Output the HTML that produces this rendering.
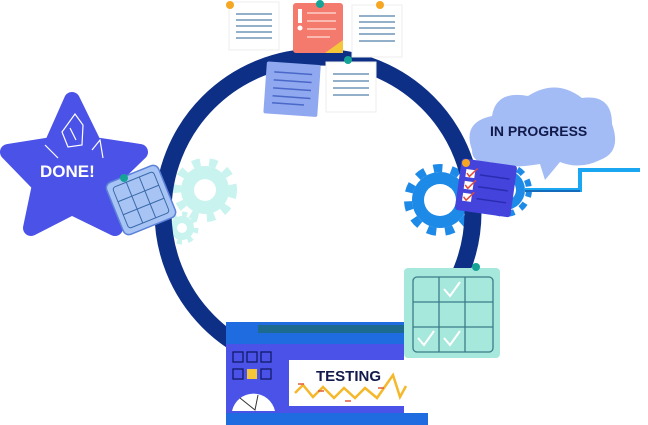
<!DOCTYPE html>
<html><head><meta charset="utf-8"><style>
html,body{margin:0;padding:0;background:#fff;width:648px;height:425px;overflow:hidden}
text{font-family:"Liberation Sans",Arial,sans-serif;font-weight:bold}
</style></head><body>
<svg width="648" height="425" viewBox="0 0 648 425" xmlns="http://www.w3.org/2000/svg">
<!-- gears -->
<g fill="#c8f3ee">
<circle cx="205" cy="190" r="24"/><circle cx="182" cy="228" r="12"/>
</g>
<circle cx="205" cy="190" r="28" fill="none" stroke="#c8f3ee" stroke-width="8" stroke-dasharray="8 9"/>
<circle cx="182" cy="228" r="14" fill="none" stroke="#c8f3ee" stroke-width="5" stroke-dasharray="5 6"/>
<circle cx="205" cy="190" r="11" fill="#fff"/><circle cx="182" cy="228" r="5" fill="#fff"/>
<circle cx="440" cy="200" r="28" fill="#1e8ae8"/>
<circle cx="440" cy="200" r="32" fill="none" stroke="#1e8ae8" stroke-width="8" stroke-dasharray="9 9"/>
<circle cx="440" cy="200" r="16" fill="#fff"/>
<circle cx="505" cy="190" r="20" fill="#1e8ae8"/>
<circle cx="505" cy="190" r="24" fill="none" stroke="#1e8ae8" stroke-width="6" stroke-dasharray="7 7"/>
<circle cx="505" cy="190" r="11" fill="#fff"/>
<!-- ring -->
<circle cx="318" cy="212" r="155" fill="none" stroke="#0d2f86" stroke-width="17"/>
<!-- top notes -->
<rect x="229" y="2" width="50" height="48" fill="#fff" stroke="#eee"/>
<g stroke="#6e95b8" stroke-width="1.5"><line x1="236" y1="14" x2="272" y2="14"/><line x1="236" y1="20" x2="272" y2="20"/><line x1="236" y1="26" x2="272" y2="26"/><line x1="236" y1="32" x2="272" y2="32"/><line x1="236" y1="38" x2="272" y2="38"/></g>
<circle cx="230" cy="5" r="4" fill="#f5a623"/>
<rect x="293" y="3" width="50" height="50" rx="3" fill="#f47a6e"/>
<path d="M343 40 L343 53 L325 53 Z" fill="#f5c53a"/>
<rect x="298" y="9" width="4" height="14" fill="#fff"/><circle cx="300" cy="28" r="2.5" fill="#fff"/>
<g stroke="#fbd0c8" stroke-width="1.5"><line x1="307" y1="13" x2="336" y2="13"/><line x1="307" y1="21" x2="336" y2="21"/><line x1="307" y1="29" x2="336" y2="29"/><line x1="307" y1="37" x2="330" y2="37"/></g>
<circle cx="320" cy="4" r="4" fill="#15a396"/>
<rect x="352" y="5" width="50" height="52" fill="#fff" stroke="#eee"/>
<g stroke="#6e95b8" stroke-width="1.5"><line x1="359" y1="16" x2="395" y2="16"/><line x1="359" y1="22" x2="395" y2="22"/><line x1="359" y1="28" x2="395" y2="28"/><line x1="359" y1="34" x2="395" y2="34"/><line x1="359" y1="41" x2="395" y2="41"/></g>
<circle cx="380" cy="5" r="4" fill="#f5a623"/>
<g transform="rotate(4 290 90)"><rect x="265" y="63" width="54" height="52" rx="2" fill="#8fa8f0"/>
<g stroke="#4a68c7" stroke-width="1.5"><line x1="273" y1="73" x2="311" y2="73"/><line x1="273" y1="81" x2="311" y2="81"/><line x1="273" y1="89" x2="311" y2="89"/><line x1="273" y1="97" x2="311" y2="97"/><line x1="273" y1="104" x2="305" y2="104"/></g></g>
<rect x="326" y="62" width="50" height="50" fill="#fff" stroke="#eee"/>
<g stroke="#6e95b8" stroke-width="1.5"><line x1="333" y1="74" x2="369" y2="74"/><line x1="333" y1="81" x2="369" y2="81"/><line x1="333" y1="88" x2="369" y2="88"/><line x1="333" y1="95" x2="369" y2="95"/></g>
<circle cx="348" cy="60" r="4" fill="#15a396"/>
<!-- star -->
<path d="M72 100 L94 145 L140 152 L106 185 L115 228 L72 207 L31 228 L40 185 L8 152 L52 145 Z" fill="#4a52e8" stroke="#4a52e8" stroke-width="16" stroke-linejoin="round"/>
<g stroke="#fff" stroke-width="1.2" fill="none"><path d="M75 114 L62 132 L68 147 L82 145 L83 125 Z M70 128 L76 140"/><path d="M45 145 L58 158 M92 150 L100 140 L103 158"/></g>
<text x="40" y="177" font-size="17" fill="#fff">DONE!</text>
<!-- done calendar -->
<g transform="rotate(-22 141 200)"><rect x="113" y="172" width="56" height="56" rx="6" fill="#a8c4f5" stroke="#5b82d8" stroke-width="1.5"/>
<g stroke="#3a6aa8" stroke-width="1"><rect x="119" y="178" width="44" height="44" fill="none" rx="3"/><line x1="134" y1="178" x2="134" y2="222"/><line x1="148" y1="178" x2="148" y2="222"/><line x1="119" y1="193" x2="163" y2="193"/><line x1="119" y1="207" x2="163" y2="207"/></g></g>
<circle cx="124" cy="178" r="4" fill="#15a396"/>
<!-- cloud -->
<path d="M472 150 Q462 122 492 116 Q496 90 528 96 Q556 78 582 98 Q612 94 612 124 Q622 152 600 160 Q580 170 560 162 L545 180 L540 164 Q505 170 490 162 Q472 164 472 150 Z" fill="#a3bcf5"/>
<text x="490" y="136" font-size="14" fill="#111a4a">IN PROGRESS</text>
<!-- connector -->
<path d="M525 190 L580 190 L580 170 L640 170" stroke="#1aa6f0" stroke-width="4" fill="none"/>
<path d="M525 191 L580 191" stroke="#0d2f86" stroke-width="1"/>
<!-- clipboard -->
<g transform="rotate(8 487 188)"><rect x="458" y="162" width="56" height="52" rx="3" fill="#4444dd"/>
<g fill="#fff"><rect x="464" y="172" width="9" height="8"/><rect x="464" y="184" width="9" height="8"/><rect x="464" y="196" width="9" height="8"/></g>
<g stroke="#e24a3a" stroke-width="1.5" fill="none"><path d="M465 176 L468 179 L475 170"/><path d="M465 188 L468 191 L475 182"/><path d="M465 200 L468 203 L475 194"/></g>
<g stroke="#2b2bb0" stroke-width="1.5"><line x1="478" y1="176" x2="508" y2="176"/><line x1="478" y1="188" x2="508" y2="188"/><line x1="478" y1="200" x2="508" y2="200"/></g></g>
<circle cx="466" cy="163" r="4" fill="#f5a623"/>
<!-- testing calendar -->
<rect x="404" y="268" width="96" height="90" rx="4" fill="#a6e8dc"/>
<g stroke="#3b7c88" stroke-width="1.3" fill="none"><rect x="413" y="277" width="80" height="75" rx="4"/><line x1="439" y1="277" x2="439" y2="352"/><line x1="465" y1="277" x2="465" y2="352"/><line x1="413" y1="302" x2="493" y2="302"/><line x1="413" y1="327" x2="493" y2="327"/></g>
<g stroke="#fff" stroke-width="2" fill="none"><path d="M444 289 L450 296 L460 282"/><path d="M418 338 L424 345 L434 331"/><path d="M444 338 L450 345 L460 331"/></g>
<circle cx="476" cy="267" r="4" fill="#15a396"/>
<!-- testing machine -->
<rect x="226" y="322" width="178" height="103" fill="#4a52e8"/>
<rect x="226" y="322" width="178" height="22" fill="#1e6ce0"/>
<rect x="258" y="325" width="146" height="8" fill="#1c6a8f"/>
<rect x="226" y="413" width="202" height="12" fill="#1e6ce0"/>
<g fill="none" stroke="#111a6a" stroke-width="1.3"><rect x="233" y="352" width="10" height="10"/><rect x="247" y="352" width="10" height="10"/><rect x="261" y="352" width="10" height="10"/><rect x="233" y="369" width="10" height="10"/><rect x="261" y="369" width="10" height="10"/></g>
<rect x="247" y="369" width="10" height="10" fill="#f5c53a"/>
<path d="M232 411 A22 22 0 0 1 275 411 Z" fill="#fff"/>
<path d="M240 398 L255 410 L258 395" stroke="#333" stroke-width="1" fill="none"/>
<rect x="289" y="360" width="126" height="46" fill="#fff"/>
<text x="316" y="381" font-size="15" fill="#111a4a">TESTING</text>
<path d="M295 393 L303 385 L313 397 L323 387 L334 398 L344 388 L355 398 L365 388 L377 398 L393 375 L400 397 L406 386" stroke="#f5b82a" stroke-width="2.5" fill="none"/>
<g stroke="#e25a3a" stroke-width="1.5"><line x1="298" y1="384" x2="304" y2="384"/><line x1="318" y1="391" x2="324" y2="391"/><line x1="345" y1="401" x2="351" y2="401"/><line x1="378" y1="388" x2="384" y2="388"/></g>
</svg>
</body></html>
